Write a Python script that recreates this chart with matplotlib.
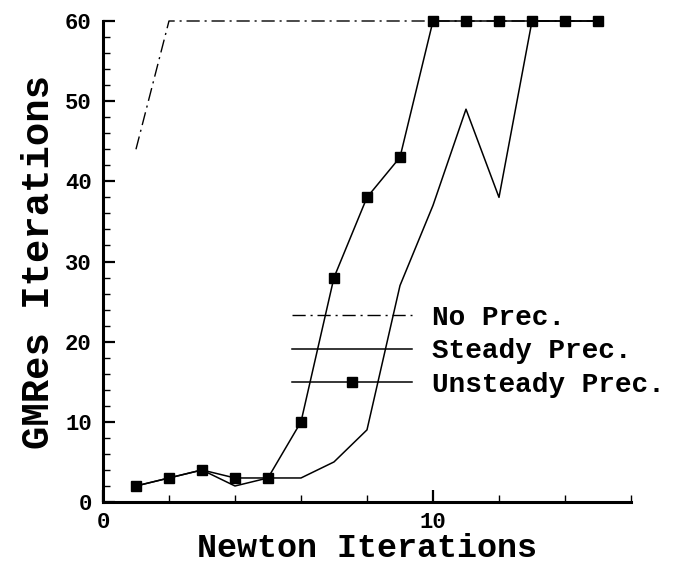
import matplotlib
matplotlib.use("Agg")
import matplotlib.pyplot as plt
from matplotlib.ticker import MultipleLocator

plt.rcParams['font.family'] = 'Liberation Mono'
plt.rcParams['font.weight'] = 'bold'
plt.rcParams['lines.scale_dashes'] = False

# Newton iteration index
newton = [1, 2, 3, 4, 5, 6, 7, 8, 9, 10, 11, 12, 13, 14, 15]

# GMRes iterations per Newton step
no_prec = [44, 60, 60, 60, 60, 60, 60, 60, 60, 60, 60, 60, 60, 60, 60]
steady_prec = [2, 3, 4, 2, 3, 3, 5, 9, 27, 37, 49, 38, 60, 60, 60]
unsteady_prec = [2, 3, 4, 3, 3, 10, 28, 38, 43, 60, 60, 60, 60, 60, 60]

fig = plt.figure(figsize=(6.73, 5.63), dpi=100)
ax = fig.add_axes([0.153, 0.1083, 0.7846, 0.8544])

ax.plot(newton, no_prec, color='black', lw=1.0, linestyle=(0, (9.5, 3.5, 1.5, 3.5)),
        label='No Prec.', clip_on=False)
ax.plot(newton, steady_prec, color='black', lw=1.1, label='Steady Prec.', clip_on=False)
ax.plot(newton, unsteady_prec, color='black', lw=1.1, marker='s', markersize=7,
        label='Unsteady Prec.', clip_on=False)

ax.set_xlim(0, 16)
ax.set_ylim(0, 60)

for s in ['top', 'right']:
    ax.spines[s].set_visible(False)
for s in ['left', 'bottom']:
    ax.spines[s].set_linewidth(2.2)

ax.xaxis.set_major_locator(MultipleLocator(10))
ax.xaxis.set_minor_locator(MultipleLocator(2))
ax.yaxis.set_major_locator(MultipleLocator(10))
ax.yaxis.set_minor_locator(MultipleLocator(2))
ax.tick_params(which='major', direction='in', length=8.6, width=1.6, labelsize=16)
ax.tick_params(which='minor', direction='in', length=5, width=1.0)
ax.tick_params(axis='y', which='major', pad=8)
ax.tick_params(axis='x', which='major', pad=7)

ax.set_xlabel('Newton Iterations', fontsize=24, fontweight='bold', labelpad=0)
ax.set_ylabel('GMRes Iterations', fontsize=28, fontweight='bold', labelpad=6)

ax.legend(loc='upper left', bbox_to_anchor=(0.434, 0.458), bbox_transform=fig.transFigure,
          frameon=False, fontsize=20, handlelength=4.3, handletextpad=0.72,
          labelspacing=0.26, borderpad=0, borderaxespad=0, numpoints=1)

fig.savefig('out.png', dpi=100)
